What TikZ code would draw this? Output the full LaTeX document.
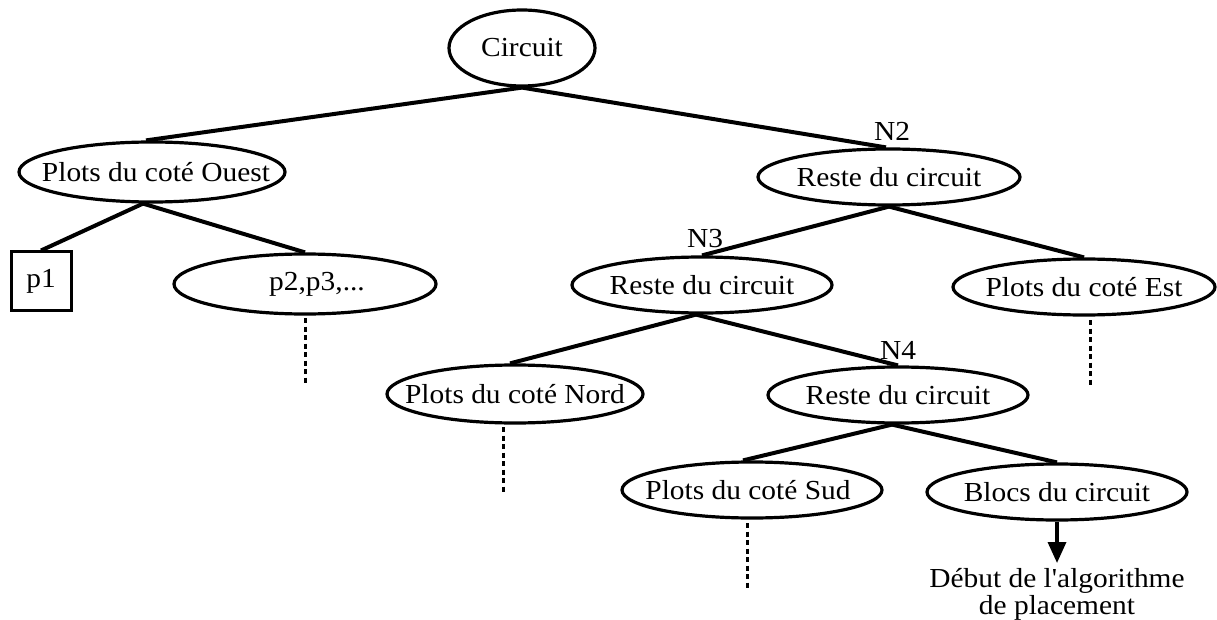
\documentclass[tikz,border=0pt]{standalone}
\usepackage{fontspec}
\setmainfont{Liberation Serif}[FakeStretch=1.07,Ligatures=TeXOff]
\usetikzlibrary{shapes.geometric,arrows.meta}
\begin{document}
\begin{tikzpicture}[x=1pt,y=-1pt,
  every node/.style={font=\fontsize{27.5}{27}\selectfont},
  ell/.style={draw,ellipse,line width=3.2pt,inner sep=0pt},
  box/.style={draw,rectangle,line width=3pt,inner sep=0pt},
  edge/.style={line width=4pt},
  dots/.style={line width=3pt,dash pattern=on 5pt off 3.5pt},
  arr/.style={line width=3.5pt,-{Triangle[width=18pt,length=21pt]}}]
\useasboundingbox (0,0) rectangle (1217,620);
% nodes
\node[ell,minimum width=146pt,minimum height=76pt,label=center:Circuit] (circuit) at (522,48) {};
\node[ell,minimum width=266pt,minimum height=60pt,label={[xshift=4pt]center:Plots du coté Ouest}] (ouest) at (152,172) {};
\node[box,minimum width=60pt,minimum height=58pt] (p1) at (41,281) {p1};
\node[ell,minimum width=262pt,minimum height=60pt,label={[xshift=12pt]center:p2,p3,...}] (p2) at (305,284) {};
\node[ell,minimum width=262pt,minimum height=56pt,label=center:Reste du circuit] (r2) at (889,177) {};
\node[ell,minimum width=260pt,minimum height=56pt,label=center:Reste du circuit] (r3) at (702,285) {};
\node[ell,minimum width=262pt,minimum height=56pt,label=center:Plots du coté Est] (est) at (1084,287) {};
\node[ell,minimum width=256pt,minimum height=58pt,label=center:Plots du coté Nord] (nord) at (515,394) {};
\node[ell,minimum width=260pt,minimum height=56pt,label=center:Reste du circuit] (r4) at (898,395) {};
\node[ell,minimum width=260pt,minimum height=56pt,label={[xshift=-4pt]center:Plots du coté Sud}] (sud) at (752,490) {};
\node[ell,minimum width=260pt,minimum height=56pt,label=center:Blocs du circuit] (blocs) at (1057,492) {};
% N labels
\node (n2) at (892,131) {N2};
\node (n3) at (705,239) {N3};
\node (n4) at (898,350) {N4};
% result text
\node[align=center] (debut) at (1057,594) {Début de l'algorithme\\de placement};
% edges
\draw[edge] (circuit.south) -- ([xshift=-6pt]ouest.north);
\draw[edge] (circuit.south) -- ([xshift=-3pt]r2.north);
\draw[edge] ([xshift=-9pt]ouest.south) -- (p1.north);
\draw[edge] ([xshift=-9pt]ouest.south) -- (p2.north);
\draw[edge] (r2.south) -- (r3.north);
\draw[edge] (r2.south) -- (est.north);
\draw[edge] ([xshift=-6pt]r3.south) -- ([xshift=-5pt]nord.north);
\draw[edge] ([xshift=-6pt]r3.south) -- (r4.north);
\draw[edge] ([xshift=-6pt]r4.south) -- ([xshift=-9pt]sud.north);
\draw[edge] ([xshift=-6pt]r4.south) -- (blocs.north);
% dashed continuations
\coordinate (p2a) at (305,318); \coordinate (p2b) at (305,385);
\coordinate (esta) at (1090,320); \coordinate (estb) at (1090,387);
\coordinate (norda) at (503,427); \coordinate (nordb) at (503,492);
\coordinate (suda) at (747,523); \coordinate (sudb) at (747,588);
\draw[dots] (p2a) -- (p2b);
\draw[dots] (esta) -- (estb);
\draw[dots] (norda) -- (nordb);
\draw[dots] (suda) -- (sudb);
% arrow
\coordinate (tip) at (1057,563);
\draw[arr] (blocs.south) -- (tip);
\end{tikzpicture}
\end{document}
